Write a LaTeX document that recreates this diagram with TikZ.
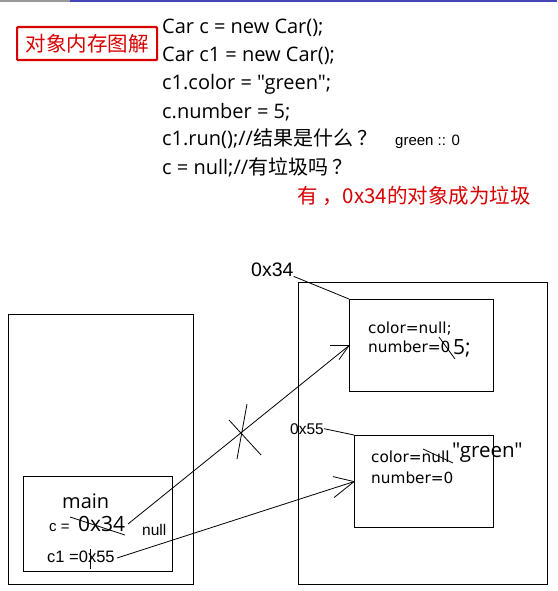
\documentclass[tikz,border=0pt]{standalone}
\usepackage{fontspec}
\setmainfont{Liberation Sans}
\newfontfamily\cjk{Noto Sans CJK SC}
\newfontfamily\codef{Open Sans}
\newfontfamily\objf{DejaVu Sans}
\begin{document}
\begin{tikzpicture}[x=1pt,y=-1pt,
  txt/.style={inner sep=0pt, anchor=base west},
  box/.style={draw, line width=1.2pt, inner sep=0pt, anchor=north west},
  conn/.style={line width=0.8pt},
  code/.style={txt, font=\codef\fontsize{20}{20}\selectfont},
  objt/.style={txt, font=\objf\fontsize{15.3}{15.3}\selectfont}]
\useasboundingbox (0,0) rectangle (557,591);
\fill[white] (0,0) rectangle (557,591);
\fill[gray!80] (0,0) rectangle (70,2.5);
\fill[blue!45!gray] (70,0) rectangle (557,2.5);
% title box
\node[draw=red!85!black, line width=2.2pt, rounded corners=1pt, anchor=north west, minimum width=140pt, minimum height=33pt, inner sep=0pt, text=red!85!black, font=\cjk\fontsize{20.5}{20.5}\selectfont] (title) at (16,26) {对象内存图解};
% code
\node[code] (l1) at (162,34) {Car c = new Car();};
\node[code] (l2) at (162,62) {Car c1 = new Car();};
\node[code] (l3) at (162,90) {c1.color = "green";};
\node[code] (l4) at (162,118) {c.number = 5;};
\node[code] (l5) at (162,146) {c1.run();//{\cjk 结果是什么 ？}};
\node[txt, font=\fontsize{15}{15}\selectfont] (ans) at (395,145) {green :: 0};
\node[code] (l6) at (162,174) {c = null;//{\cjk 有垃圾吗 ？}};
\node[txt, text=red!85!black, font=\cjk\fontsize{20.5}{20.5}\selectfont] (red) at (297,203) {有 ，0x34的对象成为垃圾};
% memory boxes
\node[box, minimum width=185pt, minimum height=270pt] (stack) at (8,314) {};
\node[box, minimum width=149pt, minimum height=95pt] (main) at (23,476) {};
\node[box, minimum width=249pt, minimum height=302pt] (heap) at (298,282) {};
\node[box, minimum width=144pt, minimum height=92pt] (obj1) at (349,299) {};
\node[box, minimum width=139pt, minimum height=92pt] (obj2) at (354,435) {};
% main texts
\node[code] (mn) at (62,508) {main};
\node[txt, font=\fontsize{15}{15}\selectfont] (ceq) at (49,531) {c =};
\node[txt, font=\codef\fontsize{21}{21}\selectfont] (c34) at (78,531) {0x34};
\node[txt, font=\fontsize{15.5}{15.5}\selectfont] (cnull) at (142,535) {null};
\node[txt, font=\fontsize{16.5}{16.5}\selectfont] (c1eq) at (47,562) {c1 =0x55};
\draw[conn] (70,517) -- (125,535);
\draw[conn] (90,549) -- (90,569);
% object texts
\node[objt] (o1a) at (368,333) {color=null;};
\node[objt] (o1b) at (368,352) {number=0};
\node[txt, font=\codef\fontsize{21}{21}\selectfont] (o1c) at (453,354) {5;};
\draw[conn] (439,337) -- (455,359);
\node[objt] (o2a) at (371,462) {color=null};
\node[objt] (o2b) at (371,483) {number=0};
\node[txt, font=\codef\fontsize{20.5}{20.5}\selectfont] (o2c) at (452,457) {"green"};
\draw[conn] (423,449) -- (453,463);
% address labels
\node[txt, font=\fontsize{19.5}{19.5}\selectfont] (a34) at (251,276) {0x34};
\node[txt, font=\fontsize{15.5}{15.5}\selectfont] (a55) at (290,434) {0x55};
\draw[conn] (a34.south east) -- (obj1.north west);
\draw[conn] (a55.east) -- (obj2.north west);
% arrows
\coordinate (s1) at (128,524);
\coordinate (s2) at (117,558);
\draw[conn] (s1) -- (obj1.west);
\draw[conn] (obj1.west) -- ++(-19,0);
\draw[conn] (obj1.west) -- ++(-10,14);
\draw[conn] (s2) -- (obj2.west);
\draw[conn] (obj2.west) -- ++(-21,-5);
\draw[conn] (obj2.west) -- ++(-20,16);
% cross
\draw[conn] (247,404) -- (237,459);
\draw[conn] (229,420) -- (261,455);
\end{tikzpicture}
\end{document}
